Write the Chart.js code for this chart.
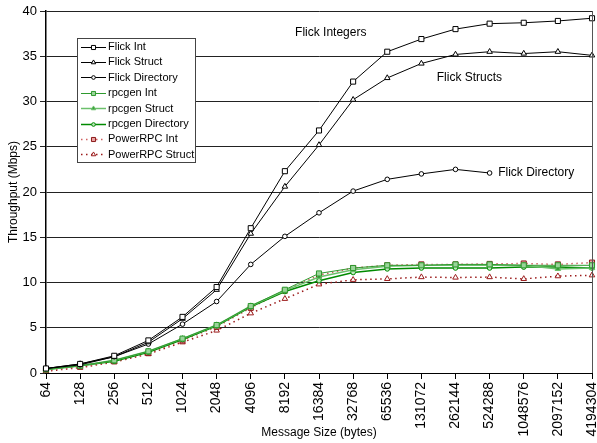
<!DOCTYPE html>
<html>
<head>
<meta charset="utf-8">
<script src="https://cdn.jsdelivr.net/npm/chart.js@4/dist/chart.umd.min.js"></script>
<style>
  html, body { margin: 0; padding: 0; background: #fff; }
  #wrap { width: 597px; height: 443px; position: relative; }
</style>
</head>
<body>
<div id="wrap"><canvas id="chart"></canvas></div>
<script>
// message sizes in bytes (category axis)
const sizes = ['64', '128', '256', '512', '1024', '2048', '4096', '8192', '16384', '32768',
  '65536', '131072', '262144', '524288', '1048576', '2097152', '4194304'];

// throughput in Mbps
const flickInt = [0.5, 1.0, 1.9, 3.6, 6.2, 9.5, 16.0, 22.3, 26.8, 32.2, 35.5, 36.9, 38.0, 38.6, 38.7, 38.9, 39.2];
const flickStruct = [0.5, 1.0, 1.8, 3.4, 6.0, 9.2, 15.4, 20.6, 25.2, 30.2, 32.6, 34.2, 35.2, 35.5, 35.3, 35.5, 35.1];
const flickDir = [0.5, 0.9, 1.8, 3.2, 5.4, 7.9, 12.0, 15.1, 17.7, 20.1, 21.4, 22.0, 22.5, 22.1, null, null, null];
const rpcgenInt = [0.4, 0.8, 1.4, 2.4, 3.8, 5.3, 7.4, 9.2, 11.0, 11.6, 11.9, 11.9, 12.0, 12.0, 11.9, 11.9, 11.9];
const rpcgenStruct = [0.4, 0.8, 1.4, 2.4, 3.8, 5.3, 7.4, 9.1, 10.6, 11.4, 11.8, 11.9, 11.9, 11.9, 11.9, 11.5, 11.6];
const rpcgenDir = [0.4, 0.8, 1.3, 2.3, 3.7, 5.2, 7.3, 9.0, 10.2, 11.1, 11.5, 11.6, 11.6, 11.6, 11.7, 11.7, 11.6];
const powerInt = [0.3, 0.7, 1.3, 2.2, 3.6, 5.1, 7.2, 9.1, 10.8, 11.6, 11.9, 12.0, 12.0, 12.05, 12.1, 12.0, 12.2];
const powerStruct = [0.2, 0.6, 1.2, 2.1, 3.4, 4.7, 6.6, 8.2, 9.8, 10.3, 10.4, 10.6, 10.55, 10.6, 10.4, 10.7, 10.8];

// text labels placed in data units: [text, category index, value]
const notes = [
  ['Flick Integers', 7.3, 37.6],
  ['Flick Structs', 11.45, 32.6],
  ['Flick Directory', 13.25, 22.1]
];

const FONT = 'Arial, "Liberation Sans", sans-serif';

function series(label, data, color, shape, fill, opts = {}) {
  return Object.assign({
    label, data,
    borderColor: color,
    backgroundColor: fill,
    pointBackgroundColor: fill,
    pointBorderColor: color,
    pointStyle: shape,
    pointRadius: shape === 'circle' ? 2.3 : 3.2,
    pointBorderWidth: 1,
    borderWidth: 1,
    tension: 0,
    spanGaps: false
  }, opts);
}

const datasets = [
  series('Flick Int', flickInt, '#000', 'rect', '#fff', { pointRadius: 3.6 }),
  series('Flick Struct', flickStruct, '#000', 'triangle', '#fff'),
  series('Flick Directory', flickDir, '#000', 'circle', '#fff'),
  series('rpcgen Int', rpcgenInt, '#2e9a2e', 'rect', '#9ad49a', { pointRadius: 3.6 }),
  series('rpcgen Struct', rpcgenStruct, '#6cc06c', 'triangle', '#3aa03a', { borderWidth: 1.5 }),
  series('rpcgen Directory', rpcgenDir, '#008a00', 'circle', '#bfe6bf', { borderWidth: 1.5 }),
  series('PowerRPC Int', powerInt, '#8b1a1a', 'rect', '#e8a0a0', { borderColor: '#d06060', borderDash: [1.5, 3.5], borderWidth: 1.5, pointRadius: 3.6 }),
  series('PowerRPC Struct', powerStruct, '#9b1b1b', 'triangle', '#fff', { borderDash: [1.5, 3.5], borderWidth: 1.5 })
];

function marker(ctx, shape, x, y, r, stroke, fill) {
  ctx.save();
  ctx.beginPath();
  if (shape === 'rect') {
    const s = r * Math.SQRT1_2;
    ctx.rect(x - s, y - s, 2 * s, 2 * s);
  } else if (shape === 'triangle') {
    ctx.moveTo(x, y - r);
    ctx.lineTo(x + r * 0.866, y + r * 0.5);
    ctx.lineTo(x - r * 0.866, y + r * 0.5);
    ctx.closePath();
  } else {
    ctx.arc(x, y, r, 0, Math.PI * 2);
  }
  ctx.fillStyle = fill;
  ctx.fill();
  ctx.lineWidth = 1;
  ctx.strokeStyle = stroke;
  ctx.stroke();
  ctx.restore();
}

const boxLegend = {
  id: 'boxLegend',
  afterDraw(chart) {
    const { ctx } = chart;
    const x0 = 77.5, y0 = 38.5, w = 118, h = 124, step = 15.4;
    ctx.save();
    ctx.fillStyle = '#fff';
    ctx.fillRect(x0, y0, w, h);
    ctx.strokeStyle = '#444';
    ctx.lineWidth = 1;
    ctx.strokeRect(x0, y0, w, h);
    ctx.font = '11px ' + FONT;
    ctx.textBaseline = 'middle';
    chart.data.datasets.forEach((ds, i) => {
      const y = y0 + 8 + i * step;
      ctx.save();
      ctx.strokeStyle = ds.borderColor;
      ctx.lineWidth = ds.borderWidth;
      ctx.setLineDash(ds.borderDash || []);
      ctx.beginPath();
      ctx.moveTo(81, Math.round(y) + 0.5);
      ctx.lineTo(106, Math.round(y) + 0.5);
      ctx.stroke();
      ctx.restore();
      marker(ctx, ds.pointStyle, 93.5, Math.round(y) + 0.5, ds.pointRadius * 0.8, ds.pointBorderColor, ds.pointBackgroundColor);
      ctx.fillStyle = '#000';
      ctx.fillText(ds.label, 108, y + 0.5);
    });
    ctx.restore();
  }
};

const notesAndFrame = {
  id: 'notesAndFrame',
  afterDatasetsDraw(chart) {
    const { ctx, chartArea, scales } = chart;
    ctx.save();
    ctx.strokeStyle = '#555';
    ctx.lineWidth = 1;
    ctx.beginPath();
    ctx.moveTo(Math.round(chartArea.right) + 0.5, chartArea.top);
    ctx.lineTo(Math.round(chartArea.right) + 0.5, chartArea.bottom);
    ctx.stroke();
    ctx.font = '12px ' + FONT;
    ctx.fillStyle = '#000';
    ctx.textBaseline = 'middle';
    notes.forEach(([text, idx, val]) => {
      ctx.fillText(text, scales.x.getPixelForValue(idx), scales.y.getPixelForValue(val));
    });
    ctx.restore();
  }
};

new Chart(document.getElementById('chart'), {
  type: 'line',
  data: { labels: sizes, datasets },
  options: {
    responsive: true,
    maintainAspectRatio: false,
    animation: false,
    layout: { padding: { top: 11, right: 3, left: 0, bottom: 0 } },
    plugins: { legend: { display: false }, tooltip: { enabled: false } },
    scales: {
      x: {
        type: 'category',
        offset: false,
        grid: { display: true, drawOnChartArea: false, color: '#000', tickLength: 6 },
        border: { color: '#000', width: 1 },
        ticks: {
          autoSkip: false, maxRotation: 90, minRotation: 90, padding: 3,
          color: '#000', font: { family: FONT, size: 14 }
        },
        title: {
          display: true, text: 'Message Size (bytes)', color: '#000',
          font: { family: FONT, size: 12 }, padding: { top: 0, bottom: 3 }
        },
        afterFit(scale) { scale.height = 70; scale.paddingLeft = 0; scale.paddingRight = 0; }
      },
      y: {
        min: 0, max: 40,
        grid: { color: '#222', lineWidth: 1, tickLength: 6 },
        border: { color: '#000', width: 1.5 },
        ticks: {
          stepSize: 5, padding: 3, color: '#000',
          font: { family: FONT, size: 13 }
        },
        title: {
          display: true, text: 'Throughput (Mbps)', color: '#000',
          font: { family: FONT, size: 12 }, padding: { top: 6, bottom: 0 }
        },
        afterFit(scale) { scale.width = 46; scale.paddingTop = 0; scale.paddingBottom = 0; }
      }
    }
  },
  plugins: [notesAndFrame, boxLegend]
});
</script>
</body>
</html>
